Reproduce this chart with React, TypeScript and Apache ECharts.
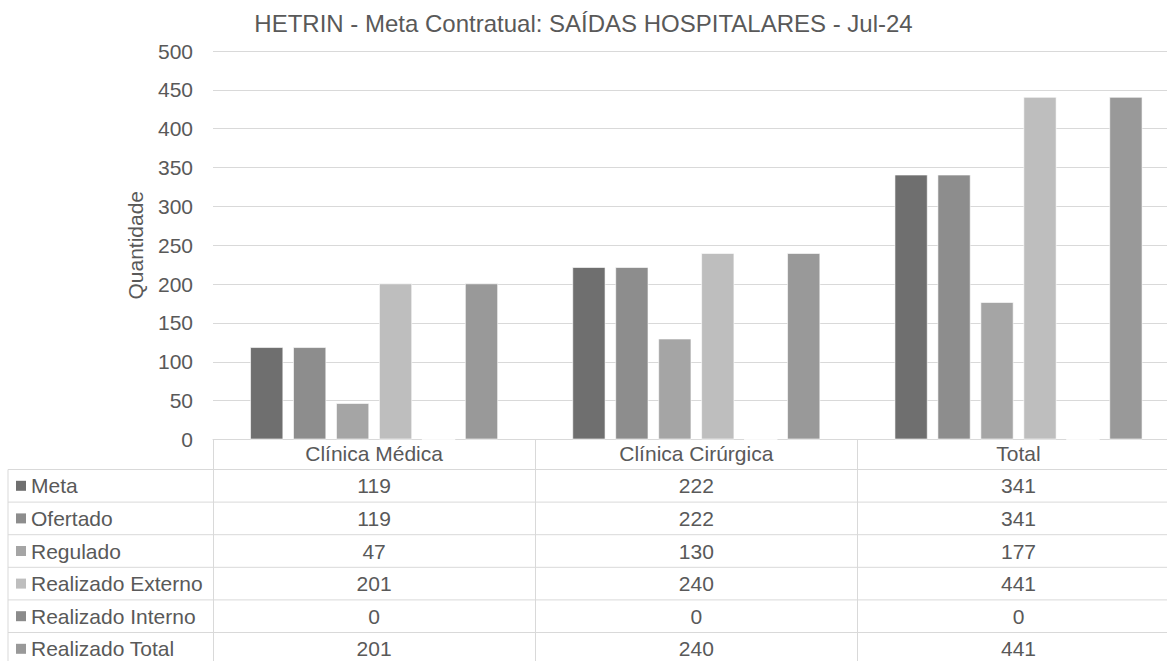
import React, { useEffect, useRef } from "react";
import * as echarts from "echarts";

const titleText = "HETRIN - Meta Contratual: SAÍDAS HOSPITALARES - Jul-24";
const categories = ["Clínica Médica", "Clínica Cirúrgica", "Total"];
const seriesNames = [
  "Meta",
  "Ofertado",
  "Regulado",
  "Realizado Externo",
  "Realizado Interno",
  "Realizado Total",
];
const meta = [119, 222, 341];
const ofertado = [119, 222, 341];
const regulado = [47, 130, 177];
const realizadoExterno = [201, 240, 441];
const realizadoInterno = [0, 0, 0];
const realizadoTotal = [201, 240, 441];
const seriesValues = [meta, ofertado, regulado, realizadoExterno, realizadoInterno, realizadoTotal];
const seriesColors = ["#6f6f6f", "#8d8d8d", "#a5a5a5", "#bebebe", "#8b8b8b", "#999999"];
const yMin = 0;
const yMax = 500;
const yInterval = 50;

const FONT = "'Liberation Sans', Arial, sans-serif";
const TEXT = "#595959";
const LINE = "#d9d9d9";

export default function App() {
  const ref = useRef<HTMLDivElement>(null);

  useEffect(() => {
    if (!ref.current) return;
    const chart = echarts.init(ref.current, undefined, { renderer: "svg" });
    const W = 1167;
    const rowH = 32.6;
    const headerH = 30;

    chart.setOption({
      animation: false,
      backgroundColor: "#ffffff",
      title: {
        text: titleText,
        left: "center",
        top: 6,
        textStyle: { fontFamily: FONT, fontSize: 24, fontWeight: "normal", color: TEXT },
      },
      grid: {
        left: 213,
        width: 966.6,
        top: 51,
        height: 388.5,
        containLabel: false,
        outerBoundsMode: "none",
      },
      xAxis: {
        type: "category",
        data: categories,
        boundaryGap: true,
        axisLine: { show: true, lineStyle: { color: LINE, width: 1 } },
        axisTick: { show: true, length: 240, lineStyle: { color: LINE, width: 1 } },
        axisLabel: {
          fontFamily: FONT,
          fontSize: 21,
          color: TEXT,
          margin: 14,
          verticalAlign: "middle",
        },
      },
      yAxis: {
        type: "value",
        min: yMin,
        max: yMax,
        interval: yInterval,
        name: "Quantidade",
        nameLocation: "middle",
        nameGap: 67,
        nameTextStyle: { fontFamily: FONT, fontSize: 21, color: TEXT },
        axisLine: { show: false },
        axisTick: { show: false },
        axisLabel: { fontFamily: FONT, fontSize: 21, color: TEXT, margin: 20 },
        splitLine: { lineStyle: { color: LINE, width: 1 } },
      },
      series: seriesNames.map((name, i) => ({
        name,
        type: "bar",
        data: seriesValues[i],
        barGap: "29%",
        barCategoryGap: "23%",
        itemStyle: { color: seriesColors[i], borderColor: "rgba(255,255,255,0.6)", borderWidth: 1 },
      })),
    });

    const axisY = chart.convertToPixel({ yAxisIndex: 0 }, 0) as number;
    const xCenters = categories.map((_, i) => chart.convertToPixel({ xAxisIndex: 0 }, i) as number);
    const tableLeft = 8;
    const rowsTop = axisY + headerH;
    const elements: any[] = [];
    elements.push({
      type: "line",
      silent: true,
      shape: { x1: tableLeft, y1: rowsTop, x2: tableLeft, y2: rowsTop + rowH * seriesNames.length + 2 },
      style: { stroke: LINE, lineWidth: 1 },
    });
    for (let r = 0; r <= seriesNames.length; r++) {
      const y = rowsTop + r * rowH;
      elements.push({
        type: "line",
        silent: true,
        shape: { x1: tableLeft, y1: y, x2: W + 20, y2: y },
        style: { stroke: LINE, lineWidth: 1 },
      });
    }
    seriesNames.forEach((name, r) => {
      const cy = rowsTop + r * rowH + rowH / 2;
      elements.push({
        type: "rect",
        silent: true,
        shape: { x: 16, y: cy - 5, width: 10, height: 10 },
        style: { fill: seriesColors[r] },
      });
      elements.push({
        type: "text",
        silent: true,
        x: 31,
        y: cy,
        style: {
          text: name,
          fontFamily: FONT,
          fontSize: 21,
          fill: TEXT,
          align: "left",
          verticalAlign: "middle",
        },
      });
      seriesValues[r].forEach((v, c) => {
        elements.push({
          type: "text",
          silent: true,
          x: xCenters[c],
          y: cy,
          style: {
            text: String(v),
            fontFamily: FONT,
            fontSize: 21,
            fill: TEXT,
            align: "center",
            verticalAlign: "middle",
          },
        });
      });
    });
    chart.setOption({ graphic: { elements } });

    return () => chart.dispose();
  }, []);

  return (
    <div
      ref={ref}
      style={{ position: "absolute", left: 0, top: 0, width: 1167, height: 661, background: "#fff" }}
    />
  );
}
